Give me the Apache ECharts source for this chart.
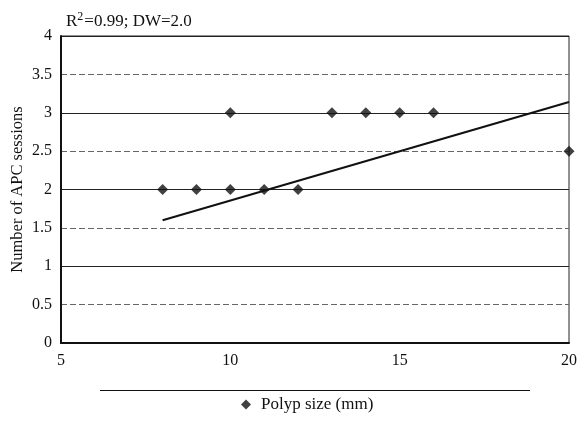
<!DOCTYPE html>
<html><head><meta charset="utf-8">
<script src="https://cdn.jsdelivr.net/npm/echarts@6/dist/echarts.min.js"></script>
<style>html,body{margin:0;padding:0;background:#fff}#c{width:586px;height:423px}</style>
</head><body><div id="c"></div>
<script>
const polypSize = [8, 9, 10, 10, 11, 12, 13, 14, 15, 16, 20];
const apcSessions = [2, 2, 2, 3, 2, 2, 3, 3, 3, 3, 2.5];
const trendX = [8, 20];
const trendY = [1.6, 3.14];
const xTicks = [5, 10, 15, 20];
const yTicks = [0, 0.5, 1, 1.5, 2, 2.5, 3, 3.5, 4];
const seriesName = 'Polyp size (mm)';
const annotation = 'R{s|2}=0.99; DW=2.0';
const yTitle = 'Number of APC sessions';

const font = 'Liberation Serif, Times New Roman, serif';
const chart = echarts.init(document.getElementById('c'), null, {renderer: 'canvas'});
chart.setOption({
  animation: false,
  textStyle: {fontFamily: font},
  title: {
    text: annotation, left: 61, top: 6,
    textStyle: {fontFamily: font, fontSize: 17, fontWeight: 'normal', color: '#111',
      rich: {s: {fontFamily: font, fontSize: 12, verticalAlign: 'top', padding: [0,1,9,0], color: '#111'}}}
  },
  grid: {left: 61, right: 17, top: 36, bottom: 80, show: true, borderColor: '#222', borderWidth: 1,
    containLabel: false, outerBoundsMode: 'none'},
  legend: {
    data: [{name: seriesName, icon: 'diamond'}],
    bottom: 5, left: 236, itemWidth: 10, itemHeight: 10, itemGap: 6,
    textStyle: {fontFamily: font, fontSize: 17, color: '#111', padding: [0, 0, 0, 5]}
  },
  graphic: [{type: 'line', shape: {x1: 100, y1: 390.5, x2: 530, y2: 390.5}, style: {stroke: '#111', lineWidth: 1}}],
  xAxis: {
    type: 'value', min: xTicks[0], max: xTicks[xTicks.length-1], interval: 5,
    axisLine: {lineStyle: {color: '#111', width: 2}}, axisTick: {show: false},
    axisLabel: {fontFamily: font, fontSize: 16, color: '#111', margin: 10},
    splitLine: {show: false}
  },
  yAxis: [{
    type: 'value', min: yTicks[0], max: yTicks[yTicks.length-1], interval: 0.5,
    name: yTitle, nameLocation: 'middle', nameGap: 35, nameRotate: 90, nameMoveOverlap: false,
    nameTextStyle: {fontFamily: font, fontSize: 16.5, color: '#111'},
    axisLine: {show: true, lineStyle: {color: '#111', width: 2}}, axisTick: {show: false},
    axisLabel: {fontFamily: font, fontSize: 16, color: '#111', margin: 9},
    splitLine: {lineStyle: {color: '#666', type: [6, 3], width: 1.2}}
  }, {
    type: 'value', min: 0, max: 4, interval: 1, position: 'left',
    axisLine: {show: false}, axisTick: {show: false}, axisLabel: {show: false},
    splitLine: {lineStyle: {color: '#222', width: 1}}
  }],
  series: [{
    name: seriesName, type: 'scatter', symbol: 'diamond', symbolSize: 11,
    itemStyle: {color: '#111'}, z: 5,
    data: polypSize.map((x, i) => [x, apcSessions[i]])
  }, {
    name: 'trend', type: 'line', showSymbol: false, symbol: 'none',
    lineStyle: {color: '#111', width: 2}, z: 4,
    data: trendX.map((x, i) => [x, trendY[i]])
  }]
});
</script></body></html>
